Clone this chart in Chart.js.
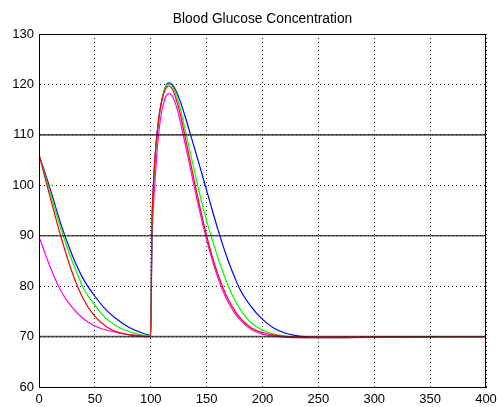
<!DOCTYPE html>
<html>
<head>
<meta charset="utf-8">
<script src="https://cdn.jsdelivr.net/npm/chart.js@4.4.1/dist/chart.umd.min.js"></script>
<style>
  body { margin: 0; background: #fff; }
  canvas { display: block; }
</style>
</head>
<body>
<canvas id="glucoseChart" width="498" height="407"></canvas>
<script>
// time points (min) shared by all four traces
const timePts = [0, 10, 20, 30, 40, 50, 60, 70, 80, 90, 100,
  101, 102, 103, 104, 106, 108, 110, 113, 116, 119, 122, 126, 130,
  135, 140, 145, 150, 155, 160, 165, 170, 175, 180,
  190, 200, 210, 220, 230, 240, 250, 275, 300, 325, 350, 375, 400];

const blueVals = [106.1, 99.3, 92.0, 86.0, 81.3, 78.0, 75.3, 73.4, 71.9, 70.9, 70.3,
  91, 98, 102.5, 106, 111, 114.5, 117, 119.4, 120.3, 120.0, 119.0, 116.9, 114.2,
  110.5, 106.7, 102.9, 99.0, 95.1, 91.3, 87.8, 84.6, 81.8, 79.3,
  75.9, 73.4, 71.7, 70.7, 70.2, 69.95, 69.85, 69.85, 69.85, 69.9, 69.95, 70, 70];

const greenVals = [106.1, 98.5, 91.1, 84.8, 79.5, 76.2, 73.6, 72.0, 71.0, 70.4, 70.1,
  91, 98, 102.5, 106, 111, 114.5, 117, 119.3, 120.1, 119.7, 118.4, 115.6, 111.8,
  106.9, 101.9, 97.2, 93.0, 89.2, 85.7, 82.5, 79.7, 77.3, 75.4,
  72.7, 71.3, 70.5, 70.1, 69.9, 69.85, 69.85, 69.85, 69.85, 69.9, 69.95, 70, 70];

const redVals = [106.1, 97.6, 89.5, 82.5, 77.3, 74.0, 72.0, 70.9, 70.4, 70.1, 70.0,
  91.5, 98.5, 102.8, 106.2, 111, 114.5, 116.9, 119.0, 119.7, 119.2, 117.6, 114.5, 110.4,
  105.1, 99.8, 94.7, 90.0, 85.9, 82.4, 79.5, 77.1, 75.2, 73.7,
  71.7, 70.8, 70.3, 70.0, 69.85, 69.8, 69.8, 69.8, 69.85, 69.9, 69.95, 70, 70];

const magentaVals = [89.8, 83.8, 78.9, 75.7, 73.5, 72.1, 71.3, 70.8, 70.4, 70.2, 70.0,
  86.5, 94, 98.3, 101.5, 107.8, 112, 114.8, 117.3, 118.2, 117.8, 116.3, 113.1, 109.0,
  103.9, 98.6, 93.7, 89.2, 85.2, 81.7, 78.8, 76.5, 74.7, 73.3,
  71.4, 70.5, 70.1, 69.9, 69.8, 69.8, 69.8, 69.8, 69.85, 69.9, 69.95, 70, 70];

// solid reference levels drawn across the whole time range
const refLevels = [70, 90, 110];
const timeRange = [0, 400];

const xTicks = [0, 50, 100, 150, 200, 250, 300, 350, 400];
const yTicks = [60, 70, 80, 90, 100, 110, 120, 130];

const FONT = 'Liberation Sans, Arial, Helvetica, sans-serif';

function toPoints(xs, ys) {
  return xs.map((x, i) => ({ x: x, y: ys[i] }));
}

function traceDataset(vals, color) {
  return {
    data: toPoints(timePts, vals),
    borderColor: color,
    borderWidth: 1.2,
    pointRadius: 0,
    fill: false,
    cubicInterpolationMode: 'monotone'
  };
}

const refDatasets = refLevels.map(level => ({
  data: timeRange.map(t => ({ x: t, y: level })),
  borderColor: 'rgba(30, 30, 30, 0.75)',
  borderWidth: 1.7,
  pointRadius: 0,
  fill: false
}));

// draws the closed box round the plot, like a matlab axes
const framePlugin = {
  id: 'frame',
  afterDraw(chart) {
    const a = chart.chartArea;
    const ctx = chart.ctx;
    ctx.save();
    ctx.strokeStyle = '#000';
    ctx.lineWidth = 1;
    ctx.setLineDash([]);
    ctx.strokeRect(Math.round(a.left) + 0.5, Math.round(a.top) + 0.5,
      Math.round(a.right - a.left) - 1, Math.round(a.bottom - a.top));
    ctx.restore();
  }
};

const ctx = document.getElementById('glucoseChart').getContext('2d');

new Chart(ctx, {
  type: 'line',
  data: {
    datasets: refDatasets.concat([
      traceDataset(redVals, '#ff0000'),
      traceDataset(greenVals, '#00ff00'),
      traceDataset(blueVals, '#0000ff'),
      traceDataset(magentaVals, '#ff00ff')
    ])
  },
  options: {
    responsive: false,
    animation: false,
    events: [],
    layout: { padding: { left: 0, right: 0, top: 0, bottom: 0 } },
    plugins: {
      legend: { display: false },
      tooltip: { enabled: false },
      title: {
        display: true,
        fullSize: false,
        text: 'Blood Glucose Concentration',
        color: '#000',
        font: { family: FONT, size: 13.8, weight: 'normal' },
        padding: { top: 11, bottom: 6.5 }
      }
    },
    scales: {
      x: {
        type: 'linear',
        min: timeRange[0],
        max: timeRange[1],
        afterBuildTicks: scale => { scale.ticks = xTicks.map(v => ({ value: v })); },
        afterFit: scale => { scale.height = 20; scale.paddingRight = 12; },
        ticks: { color: '#000', font: { family: FONT, size: 13 }, padding: 5, maxRotation: 0 },
        grid: { color: '#222', lineWidth: 1, drawTicks: false },
        border: { display: true, color: '#000', width: 1, dash: [1, 3] }
      },
      y: {
        min: 60,
        max: 130,
        afterBuildTicks: scale => { scale.ticks = yTicks.map(v => ({ value: v })); },
        afterFit: scale => { scale.width = 39; },
        ticks: { color: '#000', font: { family: FONT, size: 13 }, padding: 5 },
        grid: { color: '#222', lineWidth: 1, drawTicks: false },
        border: { display: true, color: '#000', width: 1, dash: [1, 3] }
      }
    }
  },
  plugins: [framePlugin]
});
</script>
</body>
</html>
